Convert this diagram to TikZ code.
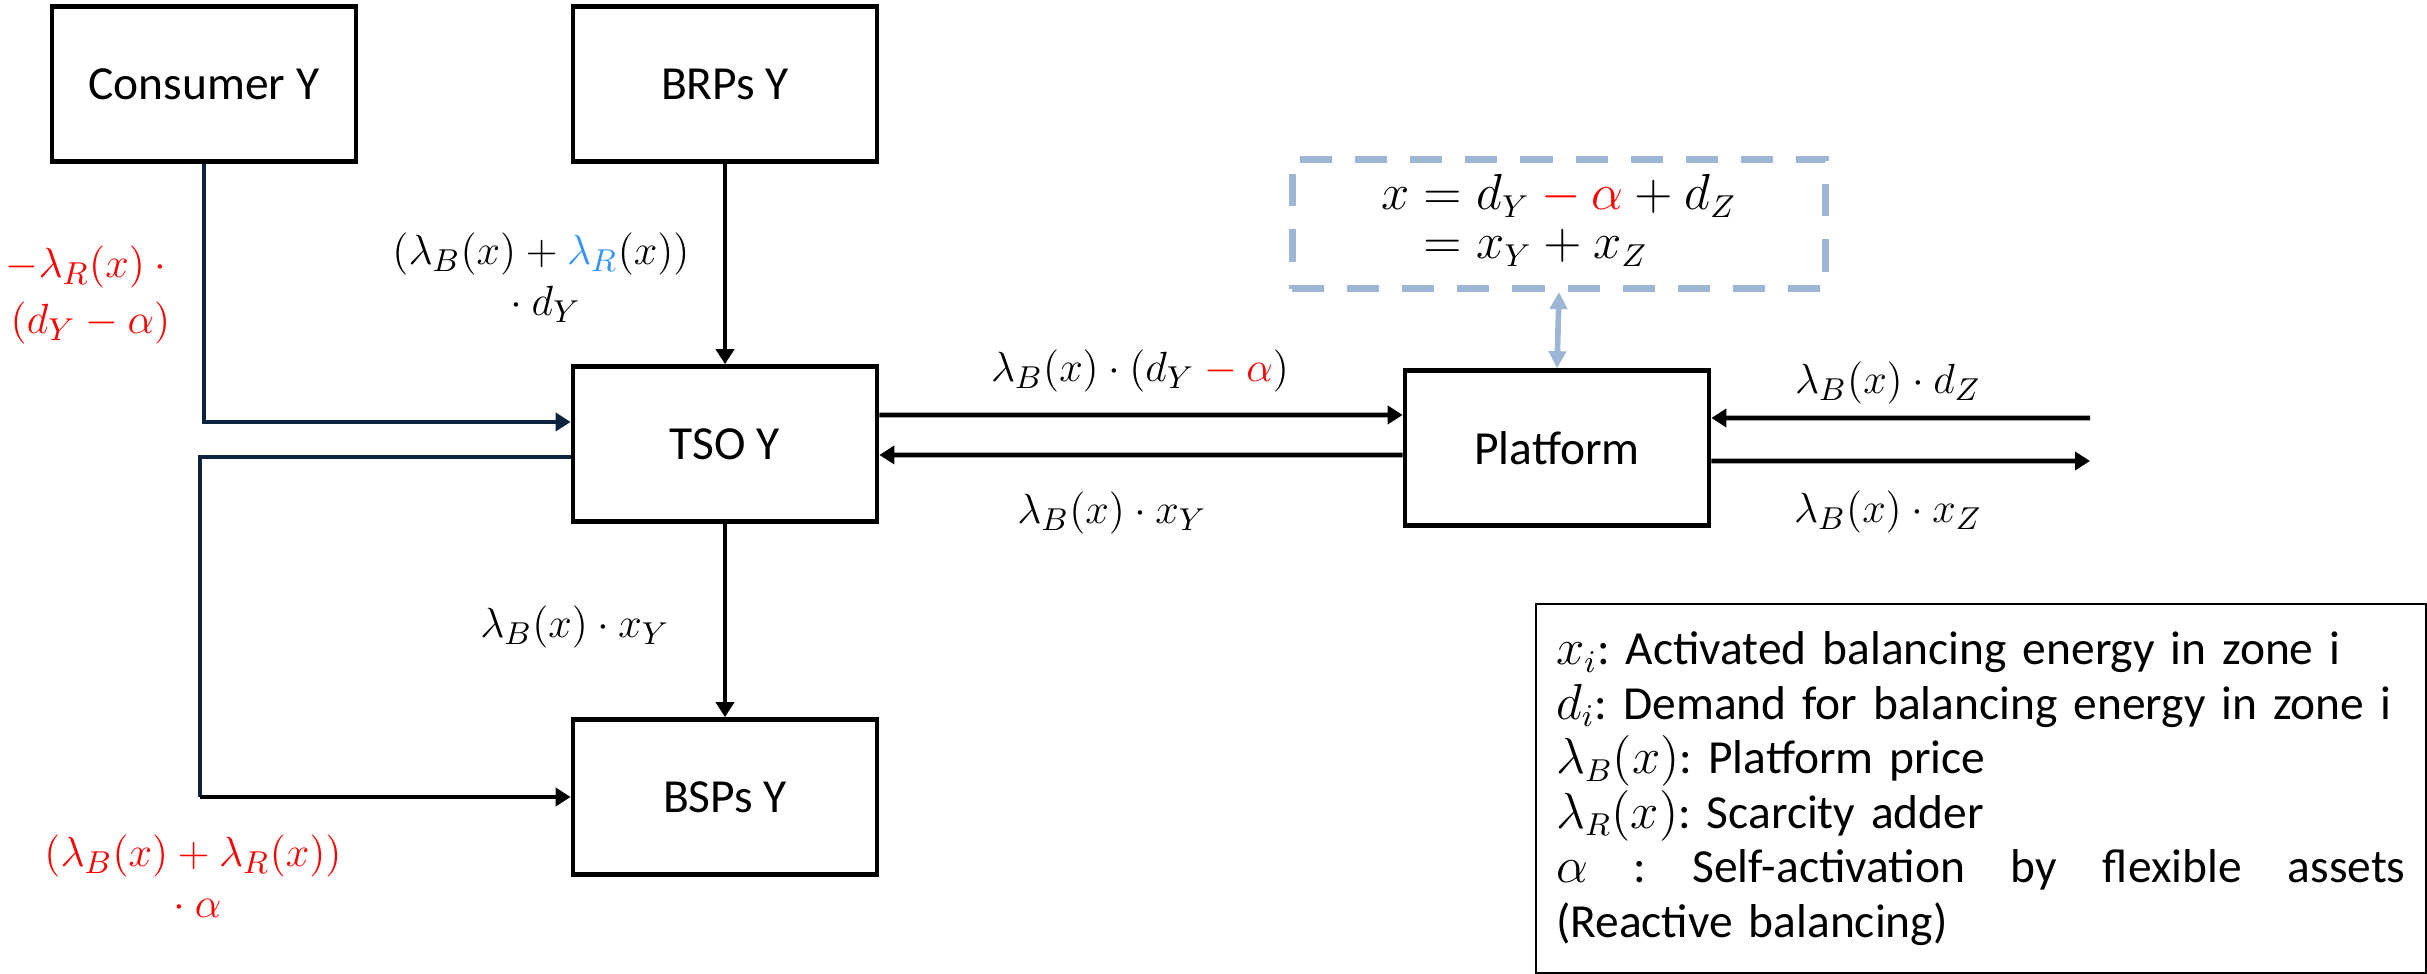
\documentclass[tikz,border=0pt]{standalone}
\usepackage{amsmath}
\usepackage{fontspec}
\setmainfont{Carlito}
\usetikzlibrary{arrows.meta,calc}
\definecolor{navy}{RGB}{12,35,64}
\definecolor{steel}{RGB}{157,182,213}
\definecolor{lblue}{RGB}{51,146,255}
\setlength{\jot}{0pt}
\frenchspacing

\begin{document}
\begin{tikzpicture}[x=0.01cm,y=0.01cm,
    box/.style={draw,line width=1.3pt,minimum width=3.04cm,minimum height=1.55cm,
        font=\fontsize{13.5}{16}\selectfont},
    flow/.style={line width=1.3pt,-{Triangle[length=0.15cm,width=0.18cm]}},
    lab/.style={align=center,inner sep=0pt,font=\fontsize{13}{14.5}\selectfont}]
    \useasboundingbox (0,0) rectangle (2427,-974);
    \node[box] (cons) at (204,-84) {Consumer Y};
    \node[box] (brp) at (725,-84) {BRPs Y};
    \node[box] (tso) at (725,-444) {TSO Y};
    \node[box] (bsp) at (725,-797) {BSPs Y};
    \node[box] (plat) at (1557,-448) {Platform};
    \node[draw=steel, line width=2pt, dash pattern=on 0.32cm off 0.23cm,
        minimum width=5.33cm, minimum height=1.29cm,
        font=\fontsize{13.5}{14}\selectfont] (eq) at (1559,-224)
        {$\begin{aligned} x &= d_Y \mathbin{\color{red}-} {\color{red}\alpha} + d_Z\\
        &= x_Y + x_Z \end{aligned}$};
    \node[draw, line width=0.6pt, anchor=north west, text width=8.49cm,
        minimum height=3.69cm, inner xsep=0.2cm, inner ysep=0.11cm, align=left,
        font=\fontsize{13.5}{15.5}\selectfont] (leg) at (1535,-603)
        {$x_i$: Activated balancing energy in zone i\\
        $d_i$: Demand for balancing energy in zone i\\
        $\lambda_B(x)$: Platform price\\
        $\lambda_R(x)$: Scarcity adder\\
        $\alpha$\hfill:\hfill Self-activation\hfill by\hfill flexible\hfill assets\\
        (Reactive balancing)};
    \coordinate (corner) at (200,-797);
    \coordinate (extin) at (2090,-418);
    \coordinate (extout) at (2090,-461);

    \draw[flow] (brp.south) -- (tso.north);
    \draw[flow, navy, line width=1.15pt] (cons.south) |- ([yshift=0.22cm]tso.west);
    \draw[navy, line width=1.15pt] ([yshift=-0.13cm]tso.west) -| (corner);
    \draw[flow] (corner) -- (bsp.west);
    \draw[flow] (tso.south) -- (bsp.north);
    \draw[flow] ([yshift=0.29cm]tso.east) -- ([yshift=0.33cm]plat.west);
    \draw[flow] ([yshift=-0.07cm]plat.west) -- ([yshift=-0.11cm]tso.east);
    \draw[flow] (extin) -- ([yshift=0.30cm]plat.east);
    \draw[flow] ([yshift=-0.13cm]plat.east) -- (extout);
    \draw[steel, line width=1.6pt, {Triangle[length=0.17cm,width=0.17cm]}-{Triangle[length=0.17cm,width=0.17cm]}]
        (eq.south) -- (plat.north);

    \node[lab] (brplab) at (541,-278) {$(\lambda_B(x) + {\color{lblue}\lambda_R}(x))$\\${}\cdot d_Y$};
    \node[lab, red, anchor=west, font=\fontsize{13}{16}\selectfont] (conslab) at (5,-295) {$-\lambda_R(x)\cdot{}$\\$(d_Y - \alpha)$};
    \node[lab, red] (looplab) at (193,-876) {$(\lambda_B(x) + \lambda_R(x))$\\${}\cdot \alpha$};
    \node[lab] (downlab) at (575,-627) {$\lambda_B(x)\cdot x_Y$};
    \node[lab] (tolab) at (1140,-371) {$\lambda_B(x)\cdot(d_Y \mathbin{\color{red}-} {\color{red}\alpha})$};
    \node[lab] (backlab) at (1112,-513) {$\lambda_B(x)\cdot x_Y$};
    \node[lab] (inlab) at (1888,-383) {$\lambda_B(x)\cdot d_Z$};
    \node[lab] (outlab) at (1888,-512) {$\lambda_B(x)\cdot x_Z$};
\end{tikzpicture}
\end{document}
